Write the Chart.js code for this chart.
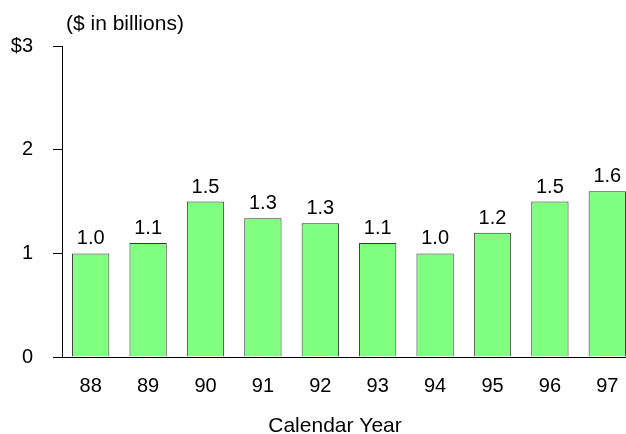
<!DOCTYPE html>
<html>
<head>
<meta charset="utf-8">
<script src="https://cdn.jsdelivr.net/npm/chart.js@4/dist/chart.umd.min.js"></script>
<style>
html,body{margin:0;padding:0;background:#fff;overflow:hidden;}
#wrap{width:636px;height:434px;position:relative;}
</style>
</head>
<body>
<div id="wrap"><canvas id="c" width="636" height="434"></canvas></div>
<script>
const categories = ['88','89','90','91','92','93','94','95','96','97'];
const values = [1.0, 1.1, 1.5, 1.34, 1.29, 1.1, 1.0, 1.2, 1.5, 1.6];
const yTicks = [0, 1, 2, 3];
const unitLabel = '($ in billions)';
const xTitle = 'Calendar Year';

const FONT = '"Liberation Sans", Arial, sans-serif';

const valueLabels = {
  id: 'valueLabels',
  afterDatasetsDraw(chart) {
    const ctx = chart.ctx;
    const meta = chart.getDatasetMeta(0);
    ctx.save();
    ctx.font = '20px ' + FONT;
    ctx.fillStyle = '#000';
    ctx.textAlign = 'center';
    ctx.textBaseline = 'alphabetic';
    meta.data.forEach((bar, i) => {
      ctx.fillText(values[i].toFixed(1), bar.x, bar.y - 9);
    });
    ctx.restore();
  }
};

const extraText = {
  id: 'extraText',
  afterLayout(chart) {
    if (chart.titleBlock) {
      chart.titleBlock.left = chart.chartArea.left + 4;
    }
  },
  afterDraw(chart) {
    const ctx = chart.ctx;
    const area = chart.chartArea;
    ctx.save();
    ctx.font = '21px ' + FONT;
    ctx.fillStyle = '#000';
    ctx.textAlign = 'center';
    ctx.textBaseline = 'alphabetic';
    ctx.fillText(xTitle, area.left + 273, chart.height - 2);
    ctx.restore();
  }
};

new Chart(document.getElementById('c'), {
  type: 'bar',
  data: {
    labels: categories,
    datasets: [{
      data: values,
      backgroundColor: '#80ff80',
      borderColor: '#333',
      borderWidth: 1,
      barPercentage: 0.65,
      categoryPercentage: 1.0
    }]
  },
  options: {
    responsive: false,
    animation: false,
    layout: { padding: { left: 0, right: 0, top: 0, bottom: 0 } },
    plugins: {
      legend: { display: false },
      tooltip: { enabled: false },
      title: {
        display: true,
        text: unitLabel,
        align: 'start',
        color: '#000',
        font: { family: FONT, size: 21, weight: 'normal', lineHeight: 1.2 },
        padding: { top: 12, bottom: 9 }
      }
    },
    scales: {
      x: {
        offset: true,
        grid: { display: false, drawTicks: false },
        border: { display: true, color: '#000', width: 1 },
        ticks: { color: '#000', font: { family: FONT, size: 20 }, padding: 17, maxRotation: 0 },
        afterFit(scale) { scale.height = 77; }
      },
      y: {
        min: 0,
        max: 3,
        afterBuildTicks(axis) { axis.ticks = yTicks.map(v => ({ value: v })); },
        afterFit(scale) { scale.width = 62; },
        grid: { drawOnChartArea: false, drawTicks: true, tickLength: 9, color: '#000' },
        border: { display: true, color: '#000', width: 1 },
        ticks: {
          color: '#000',
          font: { family: FONT, size: 20 },
          padding: 20,
          callback: (v) => v === 3 ? '$3' : String(v)
        }
      }
    }
  },
  plugins: [valueLabels, extraText]
});
</script>
</body>
</html>
